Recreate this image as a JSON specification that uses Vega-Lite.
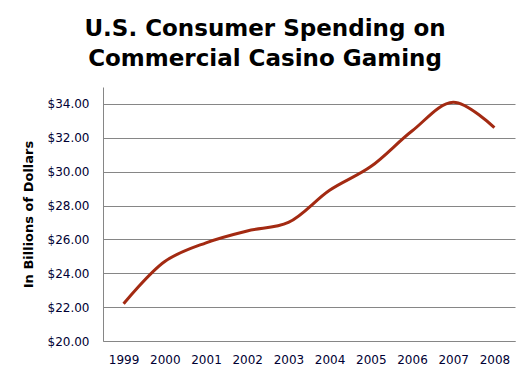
{
  "$schema": "https://vega.github.io/schema/vega-lite/v6.json",
  "width": 412,
  "height": 254,
  "autosize": {"type": "none"},
  "padding": {"left": 103, "top": 87, "right": 16, "bottom": 46},
  "background": "white",
  "title": {
    "text": ["U.S. Consumer Spending on", "Commercial Casino Gaming"],
    "font": "DejaVu Sans",
    "fontSize": 23,
    "fontWeight": "bold",
    "color": "black",
    "lineHeight": 30,
    "anchor": "middle",
    "frame": "group",
    "dx": -44,
    "offset": 16
  },
  "data": {
    "values": [
      {"year": "1999", "spending": 22.2},
      {"year": "2000", "spending": 24.7},
      {"year": "2001", "spending": 25.8},
      {"year": "2002", "spending": 26.5},
      {"year": "2003", "spending": 27.0},
      {"year": "2004", "spending": 28.9},
      {"year": "2005", "spending": 30.3},
      {"year": "2006", "spending": 32.4},
      {"year": "2007", "spending": 34.1},
      {"year": "2008", "spending": 32.6}
    ]
  },
  "mark": {"type": "line", "interpolate": "catmull-rom", "color": "#A32A12", "strokeWidth": 3},
  "encoding": {
    "x": {
      "field": "year",
      "type": "ordinal",
      "scale": {"type": "point", "padding": 0.5},
      "axis": {
        "title": null,
        "labelAngle": 0,
        "ticks": false,
        "grid": false,
        "domainColor": "#868686",
        "labelFont": "DejaVu Sans",
        "labelFontSize": 12,
        "labelColor": "#000033",
        "labelPadding": 13
      }
    },
    "y": {
      "field": "spending",
      "type": "quantitative",
      "scale": {"domain": [20, 35], "nice": false, "zero": false},
      "axis": {
        "title": "In Billions of Dollars",
        "titleFont": "DejaVu Sans",
        "titleFontSize": 13,
        "titleFontWeight": "bold",
        "titleColor": "black",
        "titlePadding": 12,
        "values": [20, 22, 24, 26, 28, 30, 32, 34],
        "format": "$.2f",
        "ticks": false,
        "grid": true,
        "gridColor": "#868686",
        "gridOpacity": 1,
        "domainColor": "#868686",
        "labelFont": "DejaVu Sans",
        "labelFontSize": 12,
        "labelColor": "#000033",
        "labelPadding": 14
      }
    }
  },
  "config": {"view": {"stroke": null}}
}
